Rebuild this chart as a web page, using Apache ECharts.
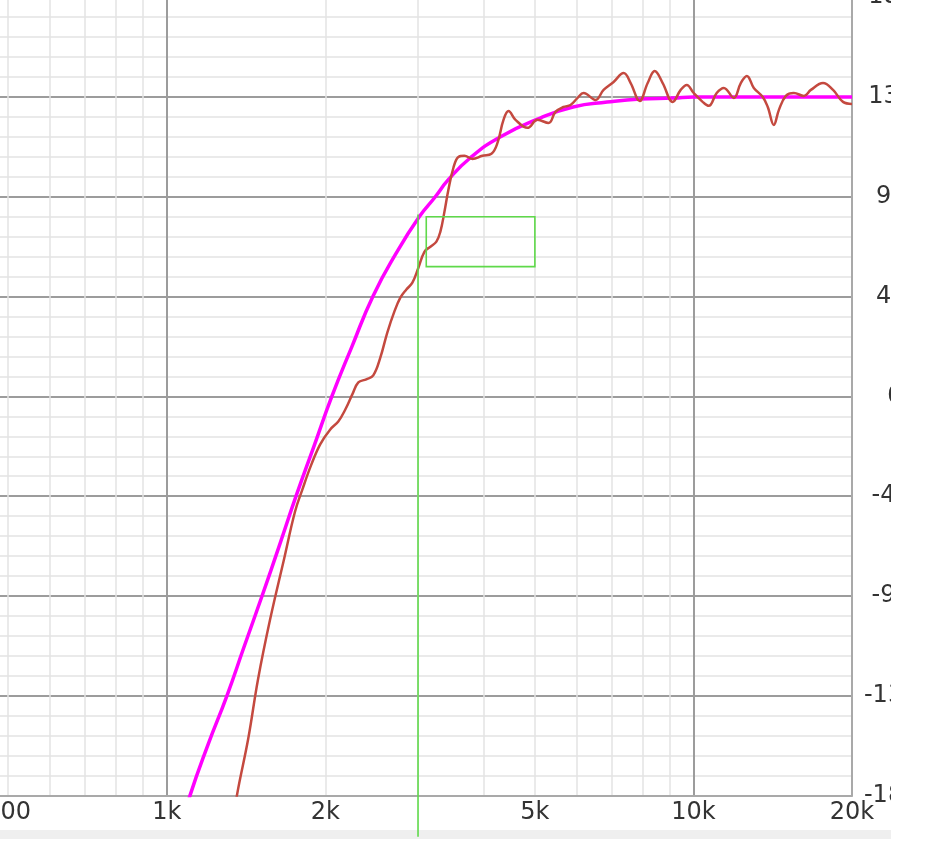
<!DOCTYPE html>
<html>
<head>
<meta charset="utf-8">
<script src="https://cdn.jsdelivr.net/npm/echarts@6.0.0/dist/echarts.min.js"></script>
<style>
  html, body { margin: 0; padding: 0; background: #ffffff; }
  #chart { width: 891px; height: 856px; }
</style>
</head>
<body>
<div id="chart"></div>
<script>
// ---- Data ----
// Target curve (magenta)
const targetFreq = [1015, 1060, 1107, 1198, 1301, 1402, 1517, 1635, 1760, 1904, 2060, 2249, 2465, 2727, 3014, 3233, 3422, 3767, 4295, 5117, 5909, 6858, 7924, 9152, 10000, 13390, 20000];
const targetDb   = [-21.2, -19.6, -18.0, -15.7, -13.5, -11.3, -9.0, -6.75, -4.5, -2.24, 0.02, 2.27, 4.53, 6.46, 8.09, 8.99, 9.76, 10.75, 11.70, 12.55, 13.05, 13.27, 13.41, 13.45, 13.5, 13.5, 13.5];

// Measured curve (red)
const measFreq = [1291, 1360, 1428, 1491, 1572, 1670, 1752, 1810, 1880, 1956, 2044, 2117, 2183, 2251, 2311, 2393, 2467, 2544, 2623, 2705, 2777, 2851, 2927, 3005, 3085, 3167, 3251, 3308, 3367, 3426, 3502, 3579, 3674, 3804, 3975, 4135, 4246, 4359, 4456, 4594, 4842, 5058, 5307, 5472, 5667, 5843, 6026, 6186, 6520, 6752, 7054, 7370, 7600, 7905, 8187, 8442, 8742, 9133, 9459, 9712, 10010, 10410, 10690, 11070, 11420, 11930, 12300, 12630, 13020, 13540, 13840, 14210, 14530, 14980, 15510, 16210, 16710, 17620, 18410, 19230, 20000];
const measDb   = [-21.3, -17.96, -15.44, -12.74, -10.04, -7.34, -5.2, -4.19, -3.1, -2.16, -1.49, -1.13, -0.59, 0.09, 0.63, 0.77, 0.95, 1.75, 2.88, 3.82, 4.45, 4.82, 5.13, 5.80, 6.52, 6.75, 6.98, 7.43, 8.32, 9.32, 10.31, 10.80, 10.85, 10.71, 10.85, 10.94, 11.43, 12.47, 12.87, 12.47, 12.11, 12.47, 12.33, 12.83, 13.05, 13.14, 13.46, 13.68, 13.37, 13.82, 14.18, 14.58, 14.13, 13.32, 14.13, 14.67, 14.13, 13.28, 13.82, 14.04, 13.68, 13.28, 13.10, 13.68, 13.91, 13.46, 14.13, 14.45, 13.91, 13.50, 13.05, 12.24, 12.92, 13.55, 13.68, 13.55, 13.82, 14.13, 13.82, 13.28, 13.19];

// Axis ranges and ticks
const xMin = 482.5, xMax = 20000;
const xLabelValues = [500, 1000, 2000, 5000, 10000, 20000];
const xLabelTexts  = ['500', '1k', '2k', '5k', '10k', '20k'];
const xMinorGrid = [500, 600, 700, 800, 900, 2000, 3000, 4000, 5000, 6000, 7000, 8000, 9000];
const xMajorGrid = [1000, 10000];
const yMin = -18, yMax = 18, yStep = 4.5;
const yLabelTexts = ['-18.0', '-13.5', '-9.0', '-4.5', '0', '4.5', '9.0', '13.5', '18.0'];

// Green marker (vertical line + box)
const markerFreq = 3000, markerTopDb = 8.2, markerBottomDb = -19.85;
const boxFreq = [3110, 5000];
const boxDb = [5.85, 8.1];

// ---- Chart ----
const FONT = 'DejaVu Sans';
const LIGHT = '#e3e3e3';
const DARK = '#9c9c9c';
const AXIS = '#a9a9a9';

function xLabel(v) {
  for (let i = 0; i < xLabelValues.length; i++) {
    if (Math.abs(Math.log10(v) - Math.log10(xLabelValues[i])) < 1e-6) return xLabelTexts[i];
  }
  return '';
}
function yLabel(v) {
  const i = Math.round((v - yMin) / yStep);
  return yLabelTexts[i] !== undefined ? yLabelTexts[i] : '';
}

const chart = echarts.init(document.getElementById('chart'), null, { renderer: 'canvas' });
chart.setOption({
  animation: false,
  backgroundColor: '#ffffff',
  grid: { left: 0, right: 39, top: -2.8, bottom: 60.4, containLabel: false, outerBoundsMode: 'none' },
  graphic: [{
    type: 'rect', left: 0, top: 830, z: 0,
    shape: { width: 891, height: 9 },
    style: { fill: '#efefef' }
  }],
  xAxis: [{
    type: 'log', logBase: 10, min: xMin, max: xMax, position: 'bottom',
    axisLine: { show: true, onZero: false, lineStyle: { color: AXIS, width: 2 } },
    axisTick: { show: false, customValues: xMinorGrid },
    splitLine: { show: true, lineStyle: { color: LIGHT, width: 1.5 } },
    axisLabel: {
      show: true, customValues: xLabelValues, formatter: xLabel,
      fontFamily: FONT, fontSize: 24, color: '#333333', margin: 5,
      showMinLabel: true, showMaxLabel: true, hideOverlap: false
    }
  }, {
    type: 'log', logBase: 10, min: xMin, max: xMax, position: 'bottom',
    axisLine: { show: false },
    axisTick: { show: false, customValues: xMajorGrid },
    splitLine: { show: true, lineStyle: { color: DARK, width: 2 } },
    axisLabel: { show: false }
  }],
  yAxis: {
    type: 'value', position: 'right', min: yMin, max: yMax, interval: yStep,
    axisLine: { show: true, lineStyle: { color: AXIS, width: 2 } },
    axisTick: { show: false },
    minorTick: { show: false, splitNumber: 5 },
    splitLine: { show: true, lineStyle: { color: DARK, width: 2 } },
    minorSplitLine: { show: true, lineStyle: { color: LIGHT, width: 1.5 } },
    axisLabel: {
      formatter: yLabel, align: 'center', verticalAlign: 'middle', margin: 43,
      fontFamily: FONT, fontSize: 24, color: '#333333', padding: [0, 0, 14, 0],
      showMinLabel: true, showMaxLabel: true, hideOverlap: false
    }
  },
  series: [{
    name: 'target', type: 'line', xAxisIndex: 0, z: 3,
    data: targetFreq.map((f, i) => [f, targetDb[i]]),
    smooth: 0.5, showSymbol: false, symbol: 'none',
    lineStyle: { color: '#ff00ff', width: 3.5 }
  }, {
    name: 'measured', type: 'line', xAxisIndex: 0, z: 4,
    data: measFreq.map((f, i) => [f, measDb[i]]),
    smooth: 0.4, showSymbol: false, symbol: 'none',
    lineStyle: { color: '#c4493f', width: 2.5 }
  }, {
    name: 'marker', type: 'custom', xAxisIndex: 0, z: 5, clip: false, silent: true,
    data: [[markerFreq, markerTopDb]],
    renderItem: function (params, api) {
      const top = api.coord([markerFreq, markerTopDb]);
      const bot = api.coord([markerFreq, markerBottomDb]);
      const b0 = api.coord([boxFreq[0], boxDb[1]]);
      const b1 = api.coord([boxFreq[1], boxDb[0]]);
      return {
        type: 'group',
        children: [{
          type: 'line',
          shape: { x1: top[0], y1: top[1], x2: bot[0], y2: bot[1] },
          style: { stroke: '#5fd94a', lineWidth: 1.6 }
        }, {
          type: 'rect',
          shape: { x: b0[0], y: b0[1], width: b1[0] - b0[0], height: b1[1] - b0[1] },
          style: { stroke: '#5fd94a', fill: null, lineWidth: 1.6 }
        }]
      };
    }
  }]
});
</script>
</body>
</html>
